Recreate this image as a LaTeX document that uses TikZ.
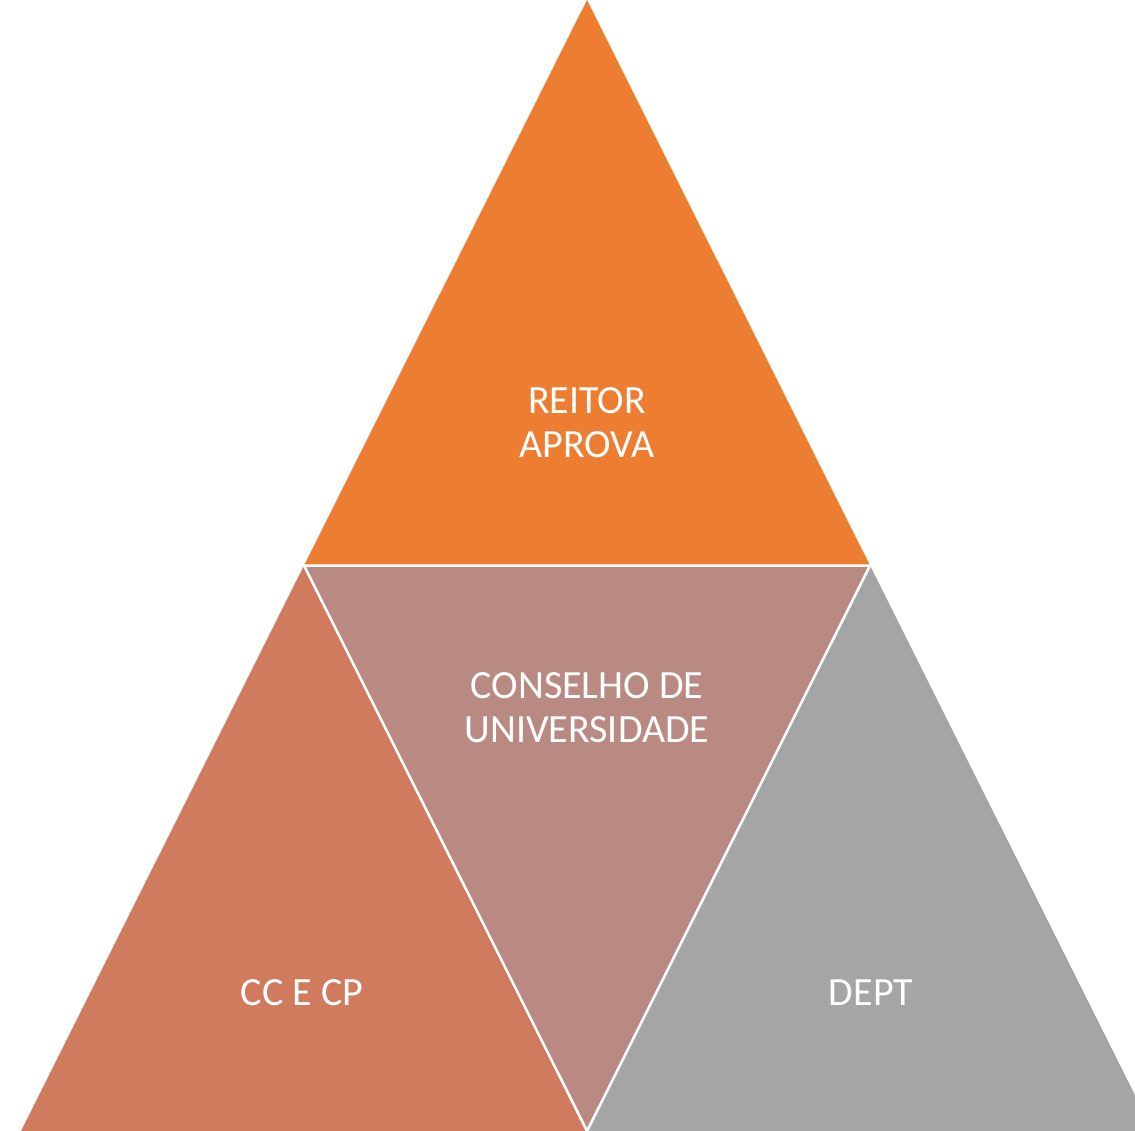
\documentclass[tikz,border=0pt]{standalone}
\usepackage{fontspec}
\setmainfont{Carlito}
\definecolor{topc}{HTML}{ED7D31}
\definecolor{leftc}{HTML}{D17B5E}
\definecolor{midc}{HTML}{B98A82}
\definecolor{rightc}{HTML}{A5A5A5}
\begin{document}
\begin{tikzpicture}[x=1pt,y=-1pt,
  tri/.style={draw=white,line width=2.5pt,line join=miter},
  lbl/.style={text=white,align=center,font=\fontsize{40}{44}\selectfont,inner sep=0pt}]
\useasboundingbox (0,0) rectangle (1135,1131);
\clip (0,0) rectangle (1135,1131);
\coordinate (A) at (587,0);
\coordinate (L) at (21,1131);
\coordinate (R) at (1153,1131);
\coordinate (ML) at (304,565.5);
\coordinate (MR) at (870,565.5);
\coordinate (MB) at (587,1131);
\fill[topc] (A) -- (ML) -- (MR) -- cycle;
\fill[leftc] (ML) -- (L) -- (MB) -- cycle;
\fill[midc] (ML) -- (MR) -- (MB) -- cycle;
\fill[rightc] (MR) -- (MB) -- (R) -- cycle;
\draw[tri] (ML) -- (MR) -- (MB) -- cycle;
\node[lbl] (reitor) at (587,423) {REITOR\\APROVA};
\node[lbl] (conselho) at (587,708) {CONSELHO DE\\UNIVERSIDADE};
\node[lbl] (cc) at (302,993) {CC E CP};
\node[lbl] (dept) at (871,993) {DEPT};
\end{tikzpicture}
\end{document}
